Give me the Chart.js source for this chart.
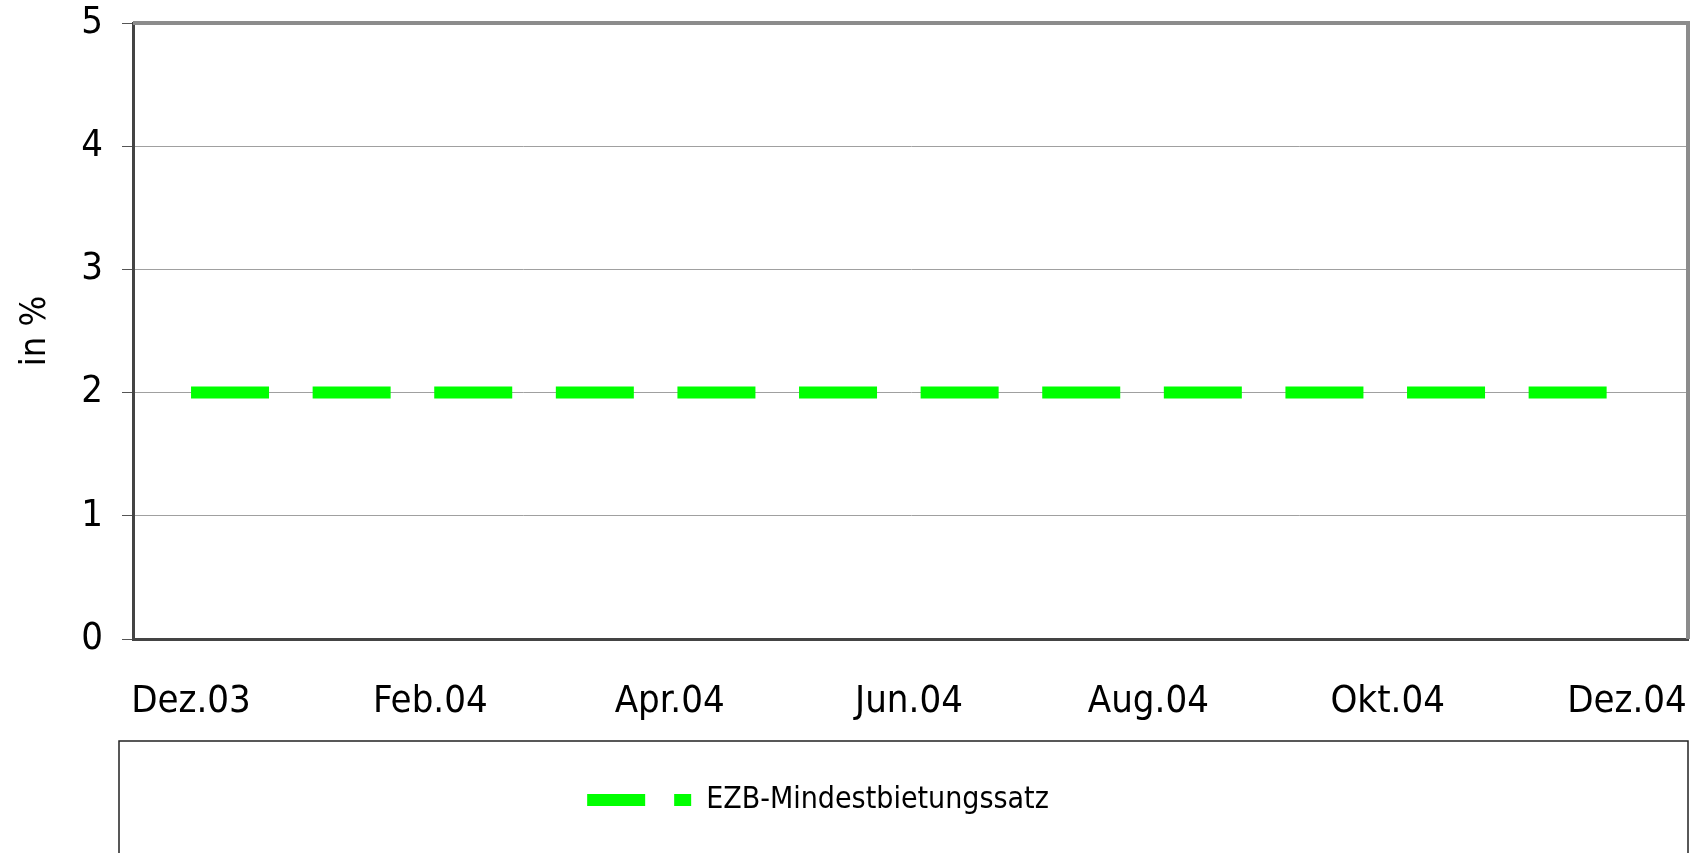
<!DOCTYPE html>
<html>
<head>
<meta charset="utf-8">
<script src="https://cdn.jsdelivr.net/npm/chart.js@4.4.0/dist/chart.umd.min.js"></script>
<style>
    html, body { margin: 0; padding: 0; background: #fff; }
</style>
</head>
<body>
<canvas id="myChart" width="1699" height="853"></canvas>
<script>
// x in months counted from Dez.03
const tickMonths = [0, 2, 4, 6, 8, 10, 12];
const tickLabels = ['Dez.03', 'Feb.04', 'Apr.04', 'Jun.04', 'Aug.04', 'Okt.04', 'Dez.04'];
const rateMonths = [0, 1, 2, 3, 4, 5, 6, 7, 8, 9, 10, 11, 11.84];
const rateValues = [2, 2, 2, 2, 2, 2, 2, 2, 2, 2, 2, 2, 2];
const seriesName = 'EZB-Mindestbietungssatz';
const yTitle = 'in %';

const fontFamily = "'Liberation Sans Narrow', 'Arial Narrow', 'DejaVu Sans Condensed', sans-serif";

// grey frame on top / right and the legend box
const framePlugin = {
    id: 'frame',
    afterLayout(chart) {
        chart.legend.left -= 26;
        chart.legend.right -= 26;
    },
    afterDatasetsDraw(chart) {
        const { ctx, chartArea } = chart;
        ctx.save();
        ctx.strokeStyle = '#8c8c8c';
        ctx.lineWidth = 4;
        ctx.beginPath();
        ctx.moveTo(chartArea.left, chartArea.top);
        ctx.lineTo(chartArea.right, chartArea.top);
        ctx.lineTo(chartArea.right, chartArea.bottom);
        ctx.stroke();
        ctx.restore();
    },
    afterDraw(chart) {
        const { ctx, chartArea } = chart;
        ctx.save();
        ctx.strokeStyle = '#222';
        ctx.lineWidth = 1.5;
        ctx.strokeRect(chartArea.left - 14, chartArea.bottom + 102, chartArea.right - chartArea.left + 14, 200);
        ctx.restore();
    }
};

const data = {
    datasets: [
        {
            label: seriesName,
            data: rateMonths.map((m, i) => {
                return { x: m, y: rateValues[i] };
            }),
            borderColor: '#00ff00',
            backgroundColor: '#00ff00',
            borderWidth: 12,
            borderDash: [78, 43.6],
            borderCapStyle: 'butt',
            pointRadius: 0,
            tension: 0
        }
    ]
};

const config = {
    type: 'line',
    data: data,
    options: {
        responsive: false,
        animation: false,
        devicePixelRatio: 1,
        layout: {
            padding: { left: 0, right: 11, top: 23, bottom: 28 }
        },
        scales: {
            x: {
                type: 'linear',
                min: -0.485,
                max: 12.51,
                afterBuildTicks: (scale) => {
                    scale.ticks = tickMonths.map((v) => ({ value: v }));
                },
                afterFit: (scale) => {
                    scale.height = 102;
                    scale.paddingLeft = 0;
                    scale.paddingRight = 0;
                },
                ticks: {
                    callback: (v) => tickLabels[tickMonths.indexOf(v)],
                    font: { family: fontFamily, size: 38 },
                    color: '#000',
                    padding: 40,
                    maxRotation: 0,
                    autoSkip: false
                },
                grid: { display: true, drawOnChartArea: false, drawTicks: false },
                border: { color: '#444', width: 3 }
            },
            y: {
                min: 0,
                max: 5,
                ticks: {
                    stepSize: 1,
                    font: { family: fontFamily, size: 38 },
                    color: '#000',
                    padding: 19
                },
                afterFit: (scale) => {
                    scale.width = 133;
                    scale.paddingTop = 0;
                    scale.paddingBottom = 0;
                },
                grid: { color: '#a0a0a0', lineWidth: 1, tickLength: 11, tickColor: '#555' },
                border: { color: '#444', width: 3 },
                title: {
                    display: true,
                    text: yTitle,
                    font: { family: fontFamily, size: 36 },
                    color: '#000',
                    padding: { top: 14, bottom: 0 }
                }
            }
        },
        plugins: {
            tooltip: { enabled: false },
            legend: {
                position: 'bottom',
                labels: {
                    usePointStyle: true,
                    pointStyleWidth: 104,
                    padding: 44,
                    font: { family: fontFamily, size: 30 },
                    color: '#000',
                    generateLabels: (chart) => {
                        return chart.data.datasets.map((ds, i) => ({
                            text: ds.label,
                            datasetIndex: i,
                            pointStyle: 'line',
                            strokeStyle: ds.borderColor,
                            fillStyle: ds.borderColor,
                            lineWidth: 12,
                            lineDash: [58, 29],
                            lineCap: 'butt',
                            fontColor: '#000'
                        }));
                    }
                }
            }
        }
    },
    plugins: [framePlugin]
};

const myChart = new Chart(document.getElementById('myChart'), config);
</script>
</body>
</html>
